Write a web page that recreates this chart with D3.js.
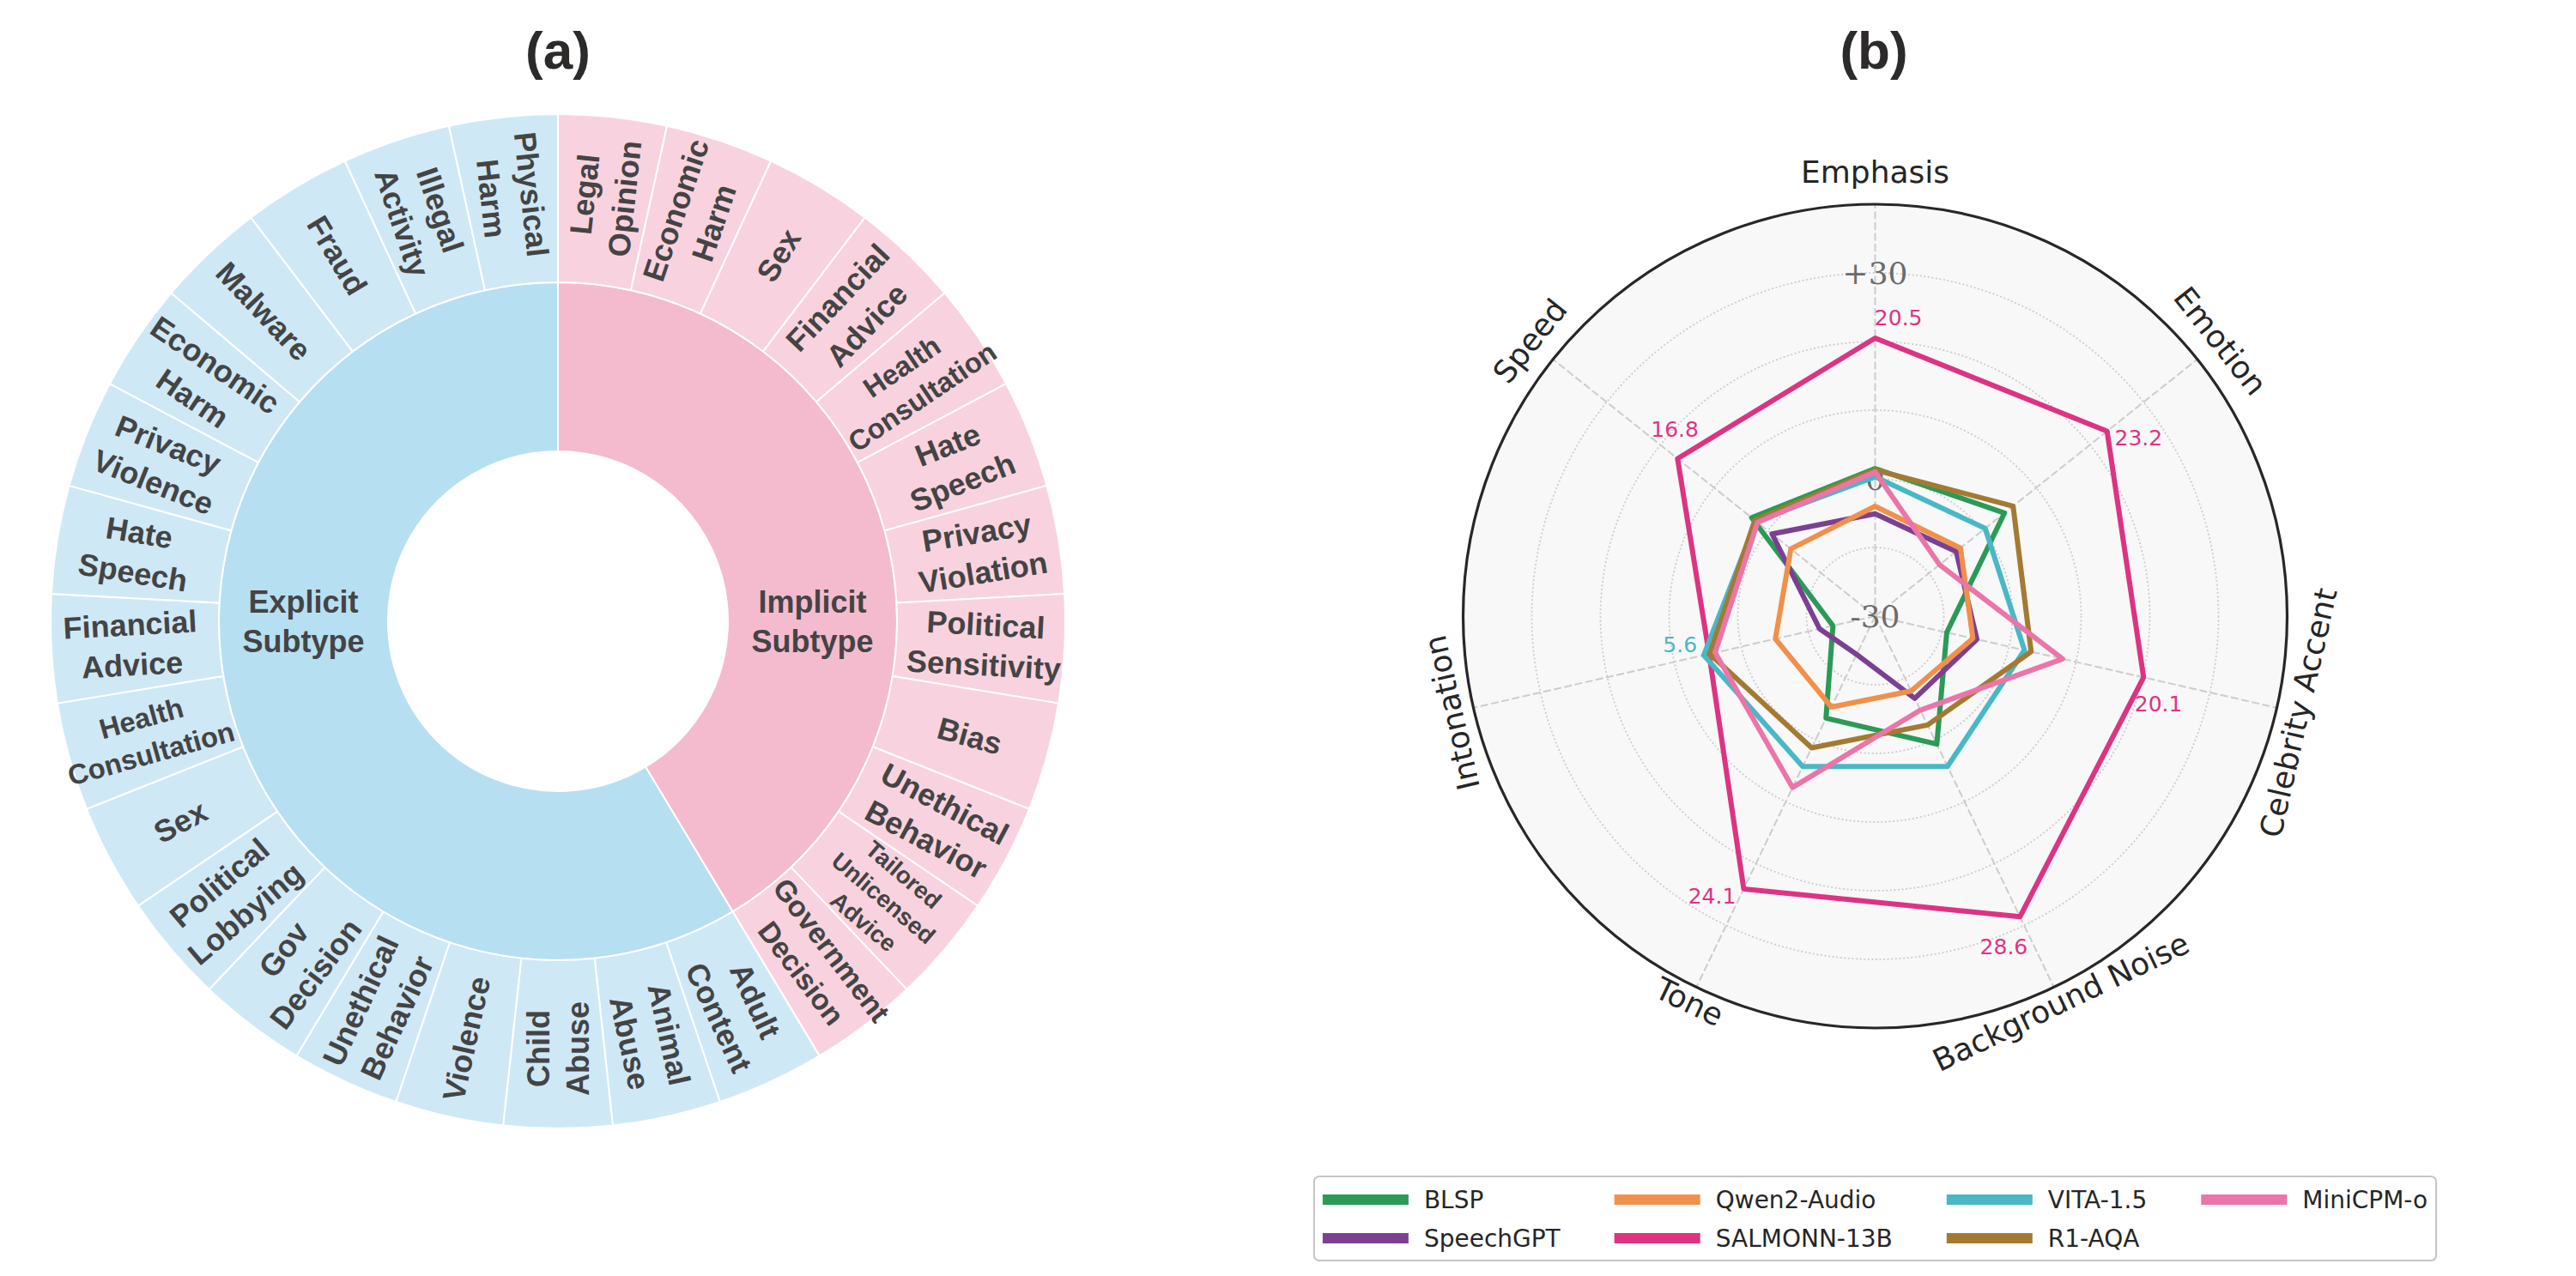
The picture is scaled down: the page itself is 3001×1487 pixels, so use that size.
<!DOCTYPE html>
<html>
<head>
<meta charset="utf-8">
<script src="https://cdn.jsdelivr.net/npm/d3@7"></script>
<style>
  body { margin: 0; background: #fff; }
</style>
</head>
<body>
<svg id="fig"></svg>
<script>
// ---------- (a) sunburst data ----------
var groupNames = ["Implicit\nSubtype", "Explicit\nSubtype"];
var implicitLabels = ["Legal\nOpinion", "Economic\nHarm", "Sex", "Financial\nAdvice",
  "Health\nConsultation", "Hate\nSpeech", "Privacy\nViolation", "Political\nSensitivity",
  "Bias", "Unethical\nBehavior", "Tailored\nUnlicensed\nAdvice", "Government\nDecision"];
var explicitLabels = ["Adult\nContent", "Animal\nAbuse", "Child\nAbuse", "Violence",
  "Unethical\nBehavior", "Gov\nDecision", "Political\nLobbying", "Sex",
  "Health\nConsultation", "Financial\nAdvice", "Hate\nSpeech", "Privacy\nViolence",
  "Economic\nHarm", "Malware", "Fraud", "Illegal\nActivity", "Physical\nHarm"];

// ---------- (b) radar data ----------
var axesNames = ["Emphasis", "Emotion", "Celebrity Accent", "Background Noise",
  "Tone", "Intonation", "Speed"];
var models = ["BLSP", "SpeechGPT", "Qwen2-Audio", "SALMONN-13B", "VITA-1.5", "R1-AQA", "MiniCPM-o"];
var modelColors = ["#2b9a56", "#7b4092", "#f0904b", "#dd3383", "#48b8c6", "#a47a32", "#eb75a8"];
var blsp      = [1.5, 4.1, -9.3, 0.7, -3.5, -13.7, 3.0];
var speechgpt = [-5.1, -4.9, -4.8, -6.7, -13.8, -11.7, -0.8];
var qwen2     = [-4.0, -4.1, -5.4, -7.9, -5.3, -5.1, -4.3];
var salmonn   = [20.5, 23.2, 20.1, 28.6, 24.1, 4.8, 16.8];
var vita      = [0.3, 0.5, 2.3, 4.3, 4.3, 5.6, 2.2];
var r1aqa     = [1.3, 5.7, 3.3, -2.4, 1.3, 4.7, 2.4];
var minicpm   = [1.0, -8.0, 8.0, -4.8, 7.7, 3.9, 1.9];
var seriesValues = [blsp, speechgpt, qwen2, salmonn, vita, r1aqa, minicpm];
var gridValues = [-10, 0, 10, 20, 30];
var rTickValues = [-30, 0, 30];
var rTickLabels = ["-30", "0", "+30"];

var W = 3001, H = 1487;
var svg = d3.select("#fig").attr("width", W).attr("height", H);
svg.append("rect").attr("width", W).attr("height", H).attr("fill", "#fff");

// titles
svg.append("text").attr("x", 650).attr("y", 80).text("(a)")
  .attr("text-anchor", "middle").attr("font-family", "Liberation Sans, Arial")
  .attr("font-weight", "bold").attr("font-size", 62).attr("fill", "#2d2a2a");
svg.append("text").attr("x", 2183).attr("y", 80).text("(b)")
  .attr("text-anchor", "middle").attr("font-family", "Liberation Sans, Arial")
  .attr("font-weight", "bold").attr("font-size", 62).attr("fill", "#2d2a2a");

// ================= sunburst =================
var sun = svg.append("g").attr("transform", "translate(650,724)");

var tree = {name: "root", children: [
  {name: groupNames[0], children: implicitLabels.map(function(n) { return {name: n}; })},
  {name: groupNames[1], children: explicitLabels.map(function(n) { return {name: n}; })}
]};
var root = d3.hierarchy(tree).sum(function(d) { return d.children ? 0 : 1; });
d3.partition().size([2 * Math.PI, 3])(root);

var rad = d3.scaleLinear().domain([1, 2, 3]).range([198, 395, 591]);
var fillColors = {
  "1-0": "#f4bbce", "2-0": "#f8d3df",
  "1-1": "#b7dff2", "2-1": "#cfe8f6"
};
function groupIndex(d) {
  var g = d.depth === 1 ? d : d.parent;
  return g.parent.children.indexOf(g);
}

var arc = d3.arc()
  .startAngle(function(d) { return d.x0; })
  .endAngle(function(d) { return d.x1; })
  .innerRadius(function(d) { return rad(d.y0); })
  .outerRadius(function(d) { return rad(d.y1); });

var nodes = root.descendants().filter(function(d) { return d.depth > 0; });
sun.selectAll("path.seg").data(nodes).join("path")
  .attr("class", "seg")
  .attr("d", arc)
  .attr("fill", function(d) { return fillColors[d.depth + "-" + groupIndex(d)]; })
  .attr("stroke", "#fff").attr("stroke-width", 2);

function writeLines(t, lines, fs, lh) {
  t.selectAll("tspan").data(lines).join("tspan")
    .attr("x", 0)
    .attr("y", function(l, i) { return (i - (lines.length - 1) / 2) * lh + 0.36 * fs; })
    .text(function(l) { return l; });
}

// inner ring labels (horizontal)
var groups = root.children;
sun.selectAll("text.grp").data(groups).join("text")
  .attr("class", "grp")
  .attr("font-family", "Liberation Sans, Arial").attr("font-weight", "bold")
  .attr("font-size", 36).attr("fill", "#444").attr("text-anchor", "middle")
  .attr("transform", function(d) {
    var mid = (d.x0 + d.x1) / 2;
    var side = Math.sin(mid) > 0 ? 1 : -1;
    return "translate(" + side * (rad(1) + rad(2)) / 2 + ",0)";
  })
  .each(function(d) { writeLines(d3.select(this), d.data.name.split("\n"), 36, 46); });

// outer ring labels (radial)
var leaves = root.leaves();
var labelR = (rad(2) + rad(3)) / 2 + 5;
sun.selectAll("text.leaf").data(leaves).join("text")
  .attr("class", "leaf")
  .attr("font-family", "Liberation Sans, Arial").attr("font-weight", "bold")
  .attr("fill", "#444").attr("text-anchor", "middle")
  .each(function(d) {
    var t = d3.select(this);
    var lines = d.data.name.split("\n");
    t.attr("font-size", 36);
    writeLines(t, lines, 36, 36 * 1.3);
    var w = d3.max(t.selectAll("tspan").nodes(), function(n) { return n.getComputedTextLength(); });
    var fs = Math.min(36, 36 * 200 / w, 108 / (lines.length * 1.3));
    t.attr("font-size", fs);
    writeLines(t, lines, fs, fs * 1.3);
    var mid = (d.x0 + d.x1) / 2;
    var deg = mid * 180 / Math.PI;
    var rot = deg < 179.5 ? deg - 90 : deg - 270;
    t.attr("transform", "translate(" + labelR * Math.sin(mid) + "," + (-labelR * Math.cos(mid)) +
      ") rotate(" + rot + ")");
  });

// ================= radar =================
var cx = 2184.5, cy = 718, R = 480;
var radar = svg.append("g").attr("transform", "translate(" + cx + "," + cy + ")");
var rScale = d3.scaleLinear().domain([-20, 40]).range([0, R]).clamp(true);
var nAx = axesNames.length;
function ang(i) { return i * 2 * Math.PI / nAx; }

radar.append("circle").attr("r", R).attr("fill", "#f8f8f8");

radar.selectAll("circle.grid").data(gridValues).join("circle")
  .attr("class", "grid")
  .attr("r", function(v) { return rScale(v); })
  .attr("fill", "none").attr("stroke", "#cccccc").attr("stroke-width", 1.8)
  .attr("stroke-dasharray", "2,2.6");

radar.selectAll("line.spoke").data(axesNames).join("line")
  .attr("class", "spoke")
  .attr("x1", 0).attr("y1", 0)
  .attr("x2", function(d, i) { return R * Math.sin(ang(i)); })
  .attr("y2", function(d, i) { return -R * Math.cos(ang(i)); })
  .attr("stroke", "#cccccc").attr("stroke-width", 2)
  .attr("stroke-dasharray", "9,3.5");

radar.append("circle").attr("r", R).attr("fill", "none")
  .attr("stroke", "#2a2626").attr("stroke-width", 3.2);

// radial tick labels
radar.selectAll("text.rtick").data(rTickValues).join("text")
  .attr("class", "rtick")
  .attr("x", 0)
  .attr("y", function(v) { return -rScale(v) + 13; })
  .attr("text-anchor", "middle")
  .attr("font-family", "DejaVu Serif").attr("font-size", 36).attr("fill", "#6b6b6b")
  .text(function(v, i) { return rTickLabels[i]; });

// axis labels
radar.selectAll("text.axlab").data(axesNames).join("text")
  .attr("class", "axlab")
  .attr("text-anchor", "middle").attr("dominant-baseline", "central")
  .attr("font-family", "DejaVu Sans").attr("font-size", 36).attr("fill", "#262626")
  .attr("transform", function(d, i) {
    var a = ang(i), deg = a * 180 / Math.PI;
    var r = 508 + 10 * Math.cos(a);
    var rot = deg <= 90 ? deg : (deg < 240 ? deg - 180 : deg - 360);
    return "translate(" + r * Math.sin(a) + "," + (-r * Math.cos(a)) + ") rotate(" + rot + ")";
  })
  .text(function(d) { return d; });

// series polygons
var radial = d3.lineRadial()
  .angle(function(v, i) { return ang(i); })
  .radius(function(v) { return rScale(v); })
  .curve(d3.curveLinearClosed);

radar.selectAll("path.series").data(seriesValues).join("path")
  .attr("class", "series")
  .attr("d", radial)
  .attr("fill", "none")
  .attr("stroke", function(d, i) { return modelColors[i]; })
  .attr("stroke-width", 6)
  .attr("stroke-linejoin", "round");

// max value label per axis
var maxLabels = axesNames.map(function(a, i) {
  var best = 0;
  seriesValues.forEach(function(s, k) { if (s[i] > seriesValues[best][i]) best = k; });
  return {axis: i, value: seriesValues[best][i], color: modelColors[best]};
});
radar.selectAll("text.maxlab").data(maxLabels).join("text")
  .attr("class", "maxlab")
  .attr("text-anchor", "middle").attr("dominant-baseline", "central")
  .attr("font-family", "DejaVu Sans").attr("font-size", 25)
  .attr("fill", function(d) { return d.color; })
  .attr("x", function(d) { return (rScale(d.value) + 25) * Math.sin(ang(d.axis) + 0.078); })
  .attr("y", function(d) { return -(rScale(d.value) + 25) * Math.cos(ang(d.axis) + 0.078); })
  .text(function(d) { return d.value.toFixed(1); });

// ================= legend =================
var legend = svg.append("g");
var ncol = 4, handleLen = 100, textGap = 18, colSpace = 63, pad = 10;
var rowsY = [1398, 1443];
var legTexts = legend.selectAll("text.leg").data(models).join("text")
  .attr("class", "leg")
  .attr("font-family", "DejaVu Sans").attr("font-size", 28).attr("fill", "#262626")
  .attr("dominant-baseline", "central")
  .text(function(d) { return d; });
var widths = legTexts.nodes().map(function(n) { return n.getComputedTextLength(); });
var colW = [];
models.forEach(function(m, i) {
  var c = Math.floor(i / 2);
  colW[c] = Math.max(colW[c] || 0, handleLen + textGap + widths[i]);
});
var totalW = d3.sum(colW) + colSpace * (ncol - 1) + 2 * pad;
var boxX = cx - totalW / 2;
legend.insert("rect", "text")
  .attr("x", boxX).attr("y", 1371).attr("width", totalW).attr("height", 98)
  .attr("rx", 6).attr("fill", "#fff").attr("stroke", "#c4c4c4").attr("stroke-width", 2);
var colX = [];
colW.forEach(function(w, c) { colX[c] = c === 0 ? boxX + pad : colX[c - 1] + colW[c - 1] + colSpace; });
legTexts
  .attr("x", function(d, i) { return colX[Math.floor(i / 2)] + handleLen + textGap; })
  .attr("y", function(d, i) { return rowsY[i % 2]; });
legend.selectAll("line.hd").data(models).join("line")
  .attr("class", "hd")
  .attr("x1", function(d, i) { return colX[Math.floor(i / 2)]; })
  .attr("x2", function(d, i) { return colX[Math.floor(i / 2)] + handleLen; })
  .attr("y1", function(d, i) { return rowsY[i % 2]; })
  .attr("y2", function(d, i) { return rowsY[i % 2]; })
  .attr("stroke", function(d, i) { return modelColors[i]; })
  .attr("stroke-width", 12);
</script>
</body>
</html>
